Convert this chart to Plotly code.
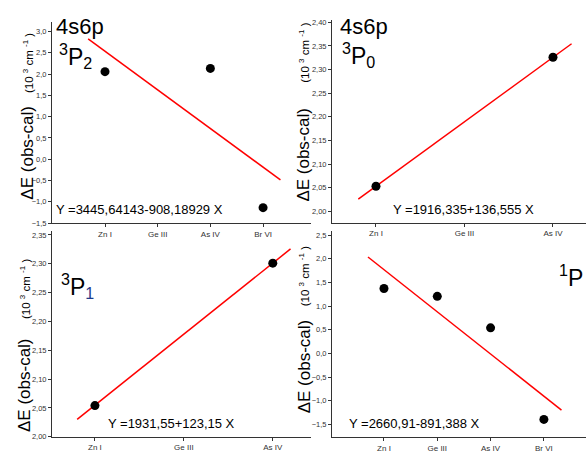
import plotly.graph_objects as go

W, H = 586, 455

# ---------------- data ----------------
labels_4 = ["Zn I", "Ge III", "As IV", "Br VI"]
labels_3 = ["Zn I", "Ge III", "As IV"]

# 3P2 (top-left)
p2_ions = ["Zn I", "As IV", "Br VI"]
p2_vals = [2.056, 2.133, -1.138]
# 3P0 (top-right)
p0_ions = ["Zn I", "As IV"]
p0_vals = [2.053, 2.326]
# 3P1 (bottom-left)
p1_ions = ["Zn I", "As IV"]
p1_vals = [2.054, 2.301]
# 1P (bottom-right)
pP_ions = ["Zn I", "Ge III", "As IV", "Br VI"]
pP_vals = [1.371, 1.205, 0.540, -1.394]

# linear fits (cm^-1): Y = a + b X
fit_a = [3445.64143, 1916.335, 1931.55, 2660.91]
fit_b = [-908.18929, 136.555, 123.15, -891.388]
fit_x = [[0.68, 4.33], [0.80, 3.21], [0.80, 3.20], [0.70, 4.33]]
eq_text = ["Y =3445,64143-908,18929 X", "Y =1916,335+136,555 X",
           "Y =1931,55+123,15 X", "Y =2660,91-891,388 X"]

term_text = ["<sup>3</sup>P<sub>2</sub>", "<sup>3</sup>P<sub>0</sub>",
             "<sup>3</sup>P<sub><span style='color:#1f3a8a'>1</span></sub>", "<sup>1</sup>P"]
config_text = "4s6p"

# ---------------- layout helpers ----------------
def px(x):
    return x / W

def py(y):
    return 1 - y / H

FONT = "Liberation Sans, Arial, sans-serif"

panels = [
    dict(ions=p2_ions, vals=p2_vals, cats=labels_4,
         xd=(52, 311), yd=(20, 224.5), xr=(-0.006, 4.91), yr=(-1.5, 3.23),
         dt=0.5, tf=".1f", t0=-1.5),
    dict(ions=p0_ions, vals=p0_vals, cats=labels_3,
         xd=(332, 586), yd=(18, 224), xr=(0.503, 3.373), yr=(1.976, 2.4056),
         dt=0.05, tf=".2f", t0=2.0),
    dict(ions=p1_ions, vals=p1_vals, cats=labels_3,
         xd=(52, 311), yd=(233, 441.5), xr=(0.517, 3.43), yr=(2.0, 2.356),
         dt=0.05, tf=".2f", t0=2.0),
    dict(ions=pP_ions, vals=pP_vals, cats=labels_4,
         xd=(332, 586), yd=(233, 442), xr=(0.025, 4.79), yr=(-1.77, 2.577),
         dt=0.5, tf=".1f", t0=-1.5),
]

fig = go.Figure()
layout = dict(width=W, height=H, margin=dict(l=0, r=0, t=0, b=0), autosize=False,
              paper_bgcolor="white", plot_bgcolor="white", showlegend=False,
              separators=", ", font=dict(family=FONT, color="#000"))

for i, p in enumerate(panels):
    n = "" if i == 0 else str(i + 1)
    xa, ya = "x" + n, "y" + n
    xpos = [p["cats"].index(c) + 1 for c in p["ions"]]
    # fit line
    x0, x1 = fit_x[i]
    fig.add_trace(go.Scatter(x=[x0, x1],
                             y=[(fit_a[i] + fit_b[i] * x0) / 1000, (fit_a[i] + fit_b[i] * x1) / 1000],
                             mode="lines", line=dict(color="#ff0000", width=1.5),
                             xaxis=xa, yaxis=ya, hoverinfo="skip"))
    fig.add_trace(go.Scatter(x=xpos, y=p["vals"], mode="markers",
                             marker=dict(color="black", size=9),
                             xaxis=xa, yaxis=ya))
    common = dict(showgrid=False, zeroline=False, showline=True, linecolor="#333",
                  linewidth=1, ticks="outside", ticklen=3, tickcolor="#333",
                  tickfont=dict(size=7.5, color="#333", family=FONT))
    layout["xaxis" + n] = dict(common, domain=[px(p["xd"][0]), px(p["xd"][1])],
                               range=list(p["xr"]), anchor=ya,
                               tickmode="array", tickvals=list(range(1, len(p["cats"]) + 1)),
                               ticktext=p["cats"], tickfont=dict(size=8, color="#333", family=FONT))
    layout["yaxis" + n] = dict(common, domain=[py(p["yd"][1]), py(p["yd"][0])],
                               range=list(p["yr"]), anchor=xa,
                               tick0=p["t0"], dtick=p["dt"], tickformat=p["tf"])

annotations = []

def ann(text, x, y, size, xanchor="left", yanchor="middle", angle=0, color="#000"):
    annotations.append(dict(text=text, x=px(x), y=py(y), xref="paper", yref="paper",
                            showarrow=False, xanchor=xanchor, yanchor=yanchor,
                            textangle=angle, font=dict(size=size, color=color, family=FONT)))

# 4s6p labels
ann(config_text, 54, 25, 22)
ann(config_text, 338, 25, 22)
# term labels
ann(term_text[0], 57, 55, 23)
ann(term_text[1], 340, 54, 23)
ann(term_text[2], 59, 288, 23)
ann(term_text[3], 585, 278, 23, xanchor="right")
# fit equations
ann(eq_text[0], 54, 211, 13)
ann(eq_text[1], 391, 211, 13)
ann(eq_text[2], 106, 428, 13)
ann(eq_text[3], 347, 428, 13)
# y titles
big = "ΔE (obs-cal)"
small = "(10 <sup>3</sup> cm <sup>-1</sup> )"
for (bx, by, sx, sy) in [(27.5, 153.5, 28, 62), (304, 155, 304, 51.5),
                         (24, 389, 25, 291.5), (304, 370, 304, 278.5)]:
    ann(big, bx, by, 17, xanchor="center", angle=-90)
    ann(small, sx, sy, 11.5, xanchor="center", angle=-90)

layout["annotations"] = annotations
fig.update_layout(**layout)
fig.write_html("out.html")
